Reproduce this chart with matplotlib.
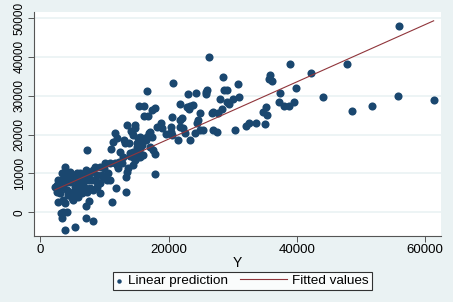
import numpy as np
import matplotlib
matplotlib.use("Agg")
import matplotlib.pyplot as plt
from matplotlib.legend_handler import HandlerLine2D

plt.rcParams['font.family'] = ['Liberation Sans', 'DejaVu Sans']

y_actual = [55846, 55690, 61300, 51740, 48620, 44050, 47840, 42230, 38950, 39900,
            39480, 38700, 38030, 37200, 37410, 35790, 35580, 36100, 35120, 35380,
            34760, 34960, 33610, 32520, 32050, 26240, 28470, 30800, 29090, 28690,
            31020, 30080, 29350, 29040, 28320, 27740, 26860, 26700, 26960, 27590,
            25820, 25870, 26030, 24260, 20730, 23020, 20560, 21760, 22810, 23740,
            23170, 23380, 24940, 24530, 24370, 24890, 24060, 23330, 22550, 21760,
            22030, 21760, 21510, 20310, 20310, 20560, 19000, 18810, 17820, 17350,
            16570, 16160, 15430, 16160, 16730, 16940, 17350, 17090, 17610, 17920,
            17820, 16050, 15530, 13450, 14750, 14700, 14230, 14490, 15530, 15790,
            15120, 15010, 15430, 14490, 13970, 14490, 14750, 14490, 13720, 13450,
            13300, 13350, 13200, 13090, 12420, 11640, 11390, 11900, 11020, 10860,
            11640, 12160, 12680, 12940, 10860, 11740, 11120, 10600, 9560, 9300,
            9300, 8520, 9300, 8260, 8780, 7740, 7320, 7120, 7480, 6960,
            7740, 7640, 7120, 7120, 8260, 5400, 3840, 3320, 3580, 4100,
            3220, 5140, 6180, 5660, 6700, 5920, 6440, 5140, 4620, 4360,
            3840, 3320, 2810, 2290, 2550, 3060, 2810, 3580, 3840, 4100,
            4620, 4880, 5400, 5920, 6440, 6960, 7480, 8000, 8780, 9820,
            10340, 8780, 8260, 5920, 4360, 4880, 3060, 2550, 3580, 4100,
            6180, 6700, 7320, 3840, 15900, 16400, 15200, 14100, 13800, 16800,
            15600, 14900, 12300, 10100, 9900, 5600, 6900, 4700, 3500, 2700,
            19600, 18200, 25300, 22300, 30300, 28000, 17100, 16300, 14000, 12000]
y_pred = [47940, 30016, 28900, 27270, 26160, 29670, 38080, 35850, 38160, 31990,
          28390, 27360, 27360, 28300, 30790, 35330, 34390, 33700, 27100, 25130,
          25730, 22640, 23070, 22980, 22130, 40050, 34820, 33100, 31470, 31470,
          29590, 29160, 27960, 28390, 26670, 25470, 25900, 25470, 21270, 20670,
          30530, 31040, 31470, 30700, 33190, 30360, 24530, 27790, 27010, 27530,
          26590, 27360, 25470, 23760, 22900, 21180, 20330, 18610, 20330, 22040,
          24180, 23760, 18610, 22040, 20750, 19900, 21610, 23070, 26760, 26330,
          31300, 27360, 27440, 24870, 24870, 20330, 19470, 16890, 16040, 15010,
          9950, 14750, 14320, 22470, 22470, 21610, 20750, 19900, 19470, 18180,
          17750, 16890, 15610, 15610, 15180, 14320, 13460, 12180, 11320, 10460,
          9180, 5150, 17750, 18610, 15610, 20330, 18180, 19040, 16210, 12610,
          12610, 11320, 12610, 14320, 8320, 6350, 2570, 10210, 9600, 7630,
          4890, 11750, 11750, 10890, 9600, 10030, 16040, 10890, 8320, 6170,
          6170, 3000, 1630, -1370, -2140, -3690, -4550, -1540, 170, 170,
          -260, 3170, 10030, 10030, 8750, 6600, 4890, 5320, 7890, 10030,
          11750, 10030, 8320, 6600, 5320, 4890, 2740, 3170, 2310, 5750,
          10460, 8320, 6600, 7890, 7890, 9180, 10460, 8320, 7890, 9180,
          8320, 6600, 5750, 4030, 4460, 3600, 7890, 7030, 6600, 7890,
          5320, 7030, 5320, 9180, 17300, 18500, 19200, 20900, 17800, 19600,
          16600, 14100, 13000, 12800, 11400, 9400, 9800, 9500, 8600, 6100,
          20100, 21900, 21300, 21600, 21100, 29200, 20800, 19100, 14600, 12200]

# fitted values line
fit_x = [2300, 61300]
fit_y = [5800, 49300]


# longer line key that reaches back into the column gap
class LongLine(HandlerLine2D):
    def create_artists(self, legend, orig_handle, xdescent, ydescent,
                       width, height, fontsize, trans):
        extra = 3.0 * fontsize
        return super().create_artists(legend, orig_handle, xdescent + extra,
                                      ydescent, width + extra, height,
                                      fontsize, trans)


bg = '#EAF2F3'
fig = plt.figure(figsize=(4.53, 3.02), dpi=100, facecolor=bg)
ax = fig.add_axes([0.075, 0.2185, 0.8985, 0.7415])
ax.set_facecolor('white')

ax.scatter(y_actual, y_pred, s=34, color='#1A476F', linewidths=0,
           label='Linear prediction', zorder=3)
line, = ax.plot(fit_x, fit_y, color='#90353B', lw=0.8,
                label='Fitted values', zorder=4)

ax.set_xlim(-982, 62446)
ax.set_ylim(-6099, 51544)
ax.set_xticks([0, 20000, 40000, 60000])
ax.set_yticks([0, 10000, 20000, 30000, 40000, 50000])
ax.grid(axis='y', color=bg, lw=1.2, zorder=0)
ax.set_axisbelow(True)

for s in ['top', 'right']:
    ax.spines[s].set_visible(False)
for s in ['left', 'bottom']:
    ax.spines[s].set_color('#555555')
    ax.spines[s].set_linewidth(0.8)

ax.tick_params(axis='both', length=4, width=0.7, color='#555555',
               labelcolor='black')
ax.tick_params(axis='x', labelsize=9.5, pad=2)
ax.tick_params(axis='y', labelsize=8.5, pad=2)
plt.setp(ax.get_yticklabels(), rotation=90, va='center')
ax.set_xlabel('Y', fontsize=10, labelpad=0)

leg = fig.legend(loc='center', bbox_to_anchor=(0.535, 0.07), ncol=2,
                 fontsize=9.7, frameon=True, fancybox=False, edgecolor='black',
                 markerscale=0.55, handlelength=0.5, columnspacing=3.9,
                 handletextpad=0.4, borderpad=0.2, borderaxespad=0,
                 handler_map={line: LongLine()})
leg.get_frame().set_linewidth(0.8)

fig.savefig('out.png', dpi=100, facecolor=bg)
